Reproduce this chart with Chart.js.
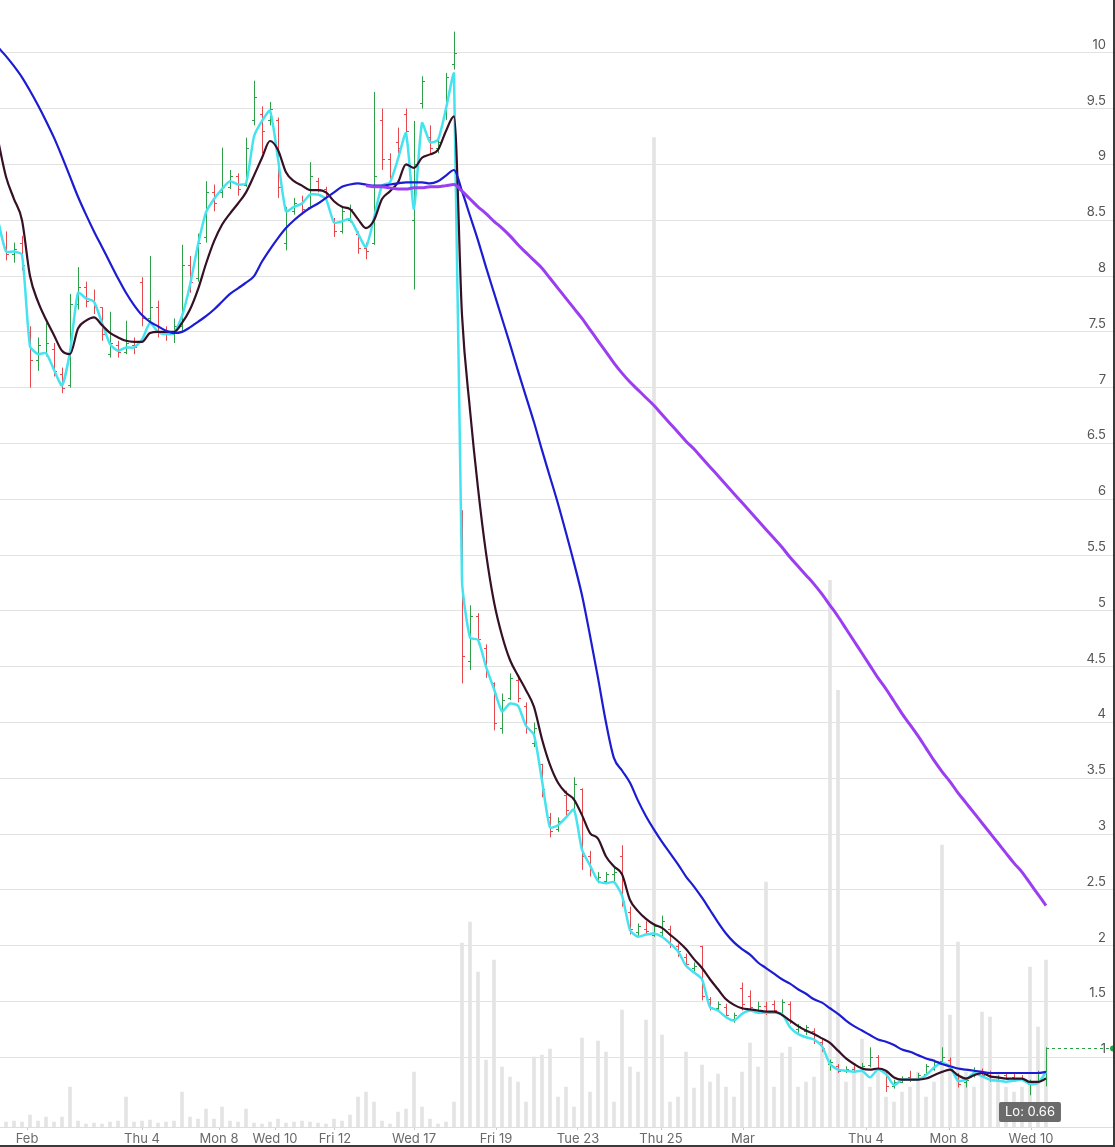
<!DOCTYPE html>
<html>
<head>
<meta charset="utf-8">
<script src="https://cdn.jsdelivr.net/npm/chart.js@4.4.1/dist/chart.umd.min.js"></script>
<style>
  html, body { margin: 0; padding: 0; background: #fff; }
  #wrap { width: 1113px; height: 1145px; border-right: 2px solid #3a3a3a; border-bottom: 2px solid #3a3a3a; }
  canvas { display: block; }
</style>
</head>
<body>
<div id="wrap"><canvas id="myChart" width="1113" height="1145"></canvas></div>
<script>
// bars are indexed 0..130, one bar every few trading hours (Feb 1 -> Mar 10)
var opens = [8.26,8.20,8.30,7.50,7.25,7.32,7.35,7.12,7.02,7.75,
  7.90,7.78,7.72,7.30,7.38,7.32,7.38,7.95,7.62,7.72,
  7.50,7.48,7.55,8.10,7.98,8.35,8.75,8.75,8.80,8.90,
  8.82,9.40,9.45,9.40,9.40,8.30,8.58,8.65,8.62,8.85,
  8.78,8.50,8.40,8.50,8.38,8.25,8.30,9.40,9.05,9.20,
  9.45,8.50,9.55,9.25,9.15,9.45,9.90,5.90,4.55,4.95,
  4.67,4.35,3.95,4.22,4.38,4.15,3.82,3.63,3.15,3.05,
  3.35,3.22,3.40,2.80,2.60,2.58,2.64,2.80,2.30,2.12,
  2.15,2.10,2.12,2.15,2.00,1.90,1.80,2.00,1.52,1.44,
  1.45,1.34,1.62,1.55,1.42,1.46,1.48,1.40,1.48,1.25,
  1.24,1.24,1.14,0.94,0.92,0.88,0.90,0.88,0.93,1.00,
  0.86,0.74,0.78,0.82,0.80,0.85,0.90,0.97,0.98,0.84,
  0.78,0.84,0.88,0.86,0.80,0.84,0.82,0.81,0.76,0.78,
  0.86];
var highs = [8.40,8.30,8.36,7.55,7.45,7.58,7.40,7.18,7.84,8.08,
  7.95,7.88,7.72,7.68,7.42,7.60,7.45,7.99,8.18,7.78,
  7.55,7.62,8.28,8.18,8.38,8.85,8.82,9.15,8.95,8.92,
  9.24,9.75,9.52,9.56,9.42,8.62,8.70,8.72,9.02,8.88,
  8.80,8.52,8.62,8.64,8.40,8.30,9.65,9.50,9.10,9.33,
  9.50,9.39,9.79,9.35,9.25,9.82,10.19,5.90,5.05,4.98,
  4.70,4.36,4.26,4.44,4.40,4.18,4.00,3.63,3.19,3.15,
  3.39,3.51,3.41,2.85,2.66,2.66,2.70,2.90,2.35,2.20,
  2.22,2.20,2.27,2.18,2.02,1.93,1.85,2.00,1.54,1.50,
  1.48,1.40,1.67,1.60,1.50,1.50,1.51,1.52,1.50,1.30,
  1.29,1.26,1.17,0.98,0.94,0.92,0.93,0.95,1.09,1.02,
  0.87,0.80,0.83,0.88,0.86,0.94,0.98,1.09,1.00,0.86,
  0.82,0.91,0.90,0.88,0.84,0.86,0.85,0.84,0.80,0.88,
  1.09];
var lows = [8.14,8.12,8.05,7.00,7.15,7.28,7.10,6.95,7.00,7.70,
  7.72,7.66,7.42,7.27,7.27,7.30,7.30,7.55,7.58,7.45,
  7.42,7.40,7.50,7.85,7.95,8.30,8.58,8.70,8.78,8.72,
  8.80,9.35,9.10,9.35,8.70,8.23,8.55,8.55,8.60,8.75,
  8.68,8.35,8.38,8.48,8.20,8.15,8.28,8.95,8.85,9.10,
  9.20,7.88,9.50,9.10,9.10,9.40,9.85,4.35,4.47,4.70,
  4.40,3.93,3.90,4.20,4.18,3.90,3.78,3.33,2.97,3.02,
  3.15,3.20,2.68,2.62,2.56,2.56,2.58,2.35,2.10,2.08,
  2.10,2.08,2.08,1.98,1.90,1.81,1.77,1.51,1.42,1.42,
  1.35,1.31,1.42,1.42,1.40,1.38,1.39,1.38,1.30,1.22,
  1.20,1.12,1.05,0.88,0.86,0.86,0.86,0.87,0.91,0.88,
  0.69,0.72,0.77,0.78,0.79,0.84,0.88,0.95,0.88,0.73,
  0.73,0.82,0.82,0.78,0.79,0.80,0.79,0.79,0.66,0.77,
  0.74];
var closes = [8.20,8.24,8.10,7.25,7.38,7.40,7.15,7.00,7.75,7.90,
  7.78,7.72,7.48,7.40,7.32,7.40,7.36,7.62,7.72,7.50,
  7.48,7.55,8.10,7.95,8.30,8.75,8.65,8.80,8.90,8.78,
  9.15,9.60,9.30,9.50,8.80,8.58,8.65,8.60,8.90,8.78,
  8.72,8.40,8.58,8.60,8.25,8.22,8.90,9.05,8.90,9.15,
  9.30,9.00,9.75,9.15,9.20,9.78,10.00,4.60,4.95,4.75,
  4.45,4.00,4.20,4.40,4.22,3.95,3.95,3.40,3.03,3.12,
  3.22,3.45,2.80,2.68,2.62,2.64,2.66,2.40,2.15,2.18,
  2.13,2.18,2.22,2.02,1.95,1.84,1.82,1.55,1.45,1.48,
  1.38,1.38,1.48,1.45,1.46,1.41,1.42,1.50,1.33,1.28,
  1.27,1.15,1.08,0.96,0.88,0.90,0.88,0.92,1.00,0.90,
  0.74,0.78,0.80,0.80,0.84,0.92,0.96,1.00,0.90,0.76,
  0.80,0.88,0.84,0.80,0.82,0.81,0.80,0.80,0.78,0.86,
  1.08];
// volume, thousands of shares
var volumes = [50,60,50,120,60,100,50,100,400,60,
  30,40,30,50,60,300,50,60,70,40,
  50,60,350,100,80,180,80,200,60,50,
  180,40,30,50,80,40,50,60,50,40,
  30,80,60,120,300,350,250,60,30,150,
  180,550,200,80,30,50,250,1840,2050,1550,
  670,1670,600,500,450,250,700,720,780,300,
  400,200,890,350,860,750,250,1170,600,550,
  1070,9900,920,250,300,750,390,620,450,530,
  400,300,550,840,600,2450,400,740,800,400,
  450,500,800,5470,4370,450,600,880,400,550,
  300,250,350,400,550,300,450,2820,1120,1850,
  550,400,1150,1100,550,400,350,400,1600,1000,
  1670];

// moving averages, first value sits one bar before bar 0
var maStart = -1;
var maFast = [8.50,8.22,8.22,8.19,7.37,7.30,7.31,7.16,7.02,7.32,7.85,
  7.80,7.77,7.58,7.39,7.33,7.36,7.36,7.43,7.58,7.50,
  7.48,7.49,7.64,7.92,8.28,8.57,8.69,8.78,8.85,8.82,
  8.83,9.25,9.39,9.48,9.05,8.58,8.62,8.65,8.73,8.73,
  8.69,8.48,8.49,8.51,8.38,8.26,8.52,8.81,8.84,9.05,
  9.28,8.60,9.37,9.20,9.22,9.50,9.81,5.27,4.76,4.74,
  4.50,4.30,4.10,4.17,4.15,3.97,3.89,3.48,3.06,3.08,
  3.15,3.22,2.86,2.72,2.58,2.56,2.57,2.45,2.14,2.08,
  2.10,2.11,2.08,2.02,1.95,1.82,1.76,1.70,1.45,1.42,
  1.36,1.33,1.39,1.42,1.40,1.40,1.40,1.39,1.27,1.21,
  1.18,1.16,1.10,0.94,0.89,0.88,0.87,0.88,0.82,0.89,
  0.85,0.75,0.80,0.80,0.80,0.84,0.91,0.95,0.92,0.79,
  0.80,0.86,0.83,0.80,0.79,0.78,0.79,0.80,0.76,0.77,
  0.87];
var maMid = [9.22,8.89,8.69,8.50,8.00,7.77,7.61,7.47,7.33,7.30,7.53,
  7.60,7.63,7.56,7.49,7.45,7.42,7.41,7.41,7.49,7.50,
  7.50,7.50,7.58,7.70,7.88,8.11,8.31,8.46,8.56,8.65,
  8.75,8.90,9.06,9.21,9.13,8.93,8.85,8.81,8.77,8.77,
  8.75,8.67,8.62,8.60,8.51,8.43,8.50,8.69,8.76,8.84,
  9.00,8.97,9.06,9.09,9.13,9.30,9.43,7.65,6.80,6.10,
  5.52,5.08,4.78,4.56,4.42,4.29,4.14,3.85,3.62,3.46,
  3.37,3.31,3.17,3.01,2.96,2.80,2.71,2.64,2.41,2.31,
  2.24,2.19,2.16,2.10,2.04,1.97,1.88,1.80,1.70,1.61,
  1.52,1.47,1.44,1.43,1.42,1.41,1.41,1.38,1.33,1.28,
  1.24,1.21,1.17,1.13,1.06,0.99,0.94,0.90,0.89,0.90,
  0.88,0.82,0.80,0.80,0.80,0.81,0.84,0.87,0.89,0.84,
  0.81,0.84,0.86,0.83,0.82,0.81,0.81,0.81,0.78,0.78,
  0.81];
var maSlow = [10.05,9.97,9.88,9.78,9.66,9.53,9.39,9.24,9.07,8.89,8.71,
  8.55,8.40,8.26,8.12,7.98,7.85,7.74,7.65,7.59,7.55,
  7.51,7.49,7.50,7.54,7.59,7.64,7.70,7.77,7.84,7.89,
  7.94,8.00,8.13,8.24,8.34,8.43,8.50,8.56,8.61,8.65,
  8.70,8.75,8.80,8.82,8.83,8.82,8.81,8.81,8.82,8.83,
  8.84,8.84,8.84,8.83,8.85,8.90,8.95,8.76,8.54,8.32,
  8.08,7.85,7.62,7.39,7.15,6.92,6.69,6.44,6.20,5.96,
  5.70,5.43,5.14,4.78,4.40,4.00,3.68,3.57,3.46,3.30,
  3.16,3.04,2.93,2.83,2.73,2.62,2.53,2.43,2.32,2.21,
  2.11,2.03,1.97,1.92,1.85,1.80,1.75,1.70,1.66,1.61,
  1.57,1.52,1.49,1.44,1.39,1.33,1.28,1.24,1.20,1.16,
  1.14,1.11,1.07,1.05,1.02,0.99,0.97,0.94,0.92,0.90,
  0.89,0.88,0.87,0.86,0.86,0.86,0.86,0.86,0.86,0.86,
  0.87];
var maLongStart = 45;
var maLong = [8.81,8.80,8.80,8.79,8.78,8.78,8.79,8.79,8.80,8.80,
  8.81,8.82,8.76,8.69,8.62,8.56,8.49,8.43,8.36,8.28,
  8.21,8.14,8.07,7.98,7.89,7.80,7.71,7.62,7.52,7.42,
  7.32,7.22,7.13,7.05,6.98,6.91,6.84,6.76,6.68,6.60,
  6.52,6.45,6.37,6.29,6.21,6.13,6.05,5.97,5.89,5.81,
  5.73,5.65,5.57,5.48,5.40,5.32,5.24,5.15,5.05,4.95,
  4.84,4.73,4.62,4.51,4.40,4.30,4.19,4.08,3.98,3.88,
  3.77,3.66,3.56,3.47,3.37,3.28,3.19,3.10,3.01,2.92,
  2.83,2.74,2.66,2.56,2.46,2.36];

// x axis labels (bar position of each day start)
var tickIdx = [2.625, 17, 26.625, 33.625, 41.125, 51, 61.25, 71.5, 81.875, 92.125, 107.5, 117.875, 128.125];
var tickLabels = ['Feb', 'Thu 4', 'Mon 8', 'Wed 10', 'Fri 12', 'Wed 17', 'Fri 19', 'Tue 23', 'Thu 25', 'Mar', 'Thu 4', 'Mon 8', 'Wed 10'];

var upColor = '#2f9e48';
var downColor = '#e5484d';

function toPoints(arr, start) {
  return arr.map(function (v, k) { return { x: start + k, y: v }; });
}

var ohlcPlugin = {
  id: 'ohlc',
  afterDatasetDraw: function (chart, args) {
    if (args.index !== 0) return;
    var ctx = chart.ctx, xs = chart.scales.x, ys = chart.scales.y;
    ctx.save();
    ctx.lineWidth = 1;
    for (var i = 0; i < closes.length; i++) {
      var px = Math.round(xs.getPixelForValue(i)) + 0.5;
      var po = Math.round(ys.getPixelForValue(opens[i])) + 0.5;
      var pc = Math.round(ys.getPixelForValue(closes[i])) + 0.5;
      ctx.strokeStyle = closes[i] >= opens[i] ? upColor : downColor;
      ctx.beginPath();
      ctx.moveTo(px, ys.getPixelForValue(highs[i]));
      ctx.lineTo(px, ys.getPixelForValue(lows[i]));
      ctx.moveTo(px - 2.5, po); ctx.lineTo(px, po);
      ctx.moveTo(px, pc); ctx.lineTo(px + 2.5, pc);
      ctx.stroke();
    }
    ctx.restore();
  }
};

var markersPlugin = {
  id: 'markers',
  afterDraw: function (chart) {
    var ctx = chart.ctx, xs = chart.scales.x, ys = chart.scales.y, area = chart.chartArea;
    var last = closes.length - 1;
    var lx = xs.getPixelForValue(last);
    var ly = Math.round(ys.getPixelForValue(closes[last])) + 0.5;
    ctx.save();
    // last price line
    ctx.strokeStyle = upColor;
    ctx.lineWidth = 1;
    ctx.setLineDash([3, 3]);
    ctx.beginPath();
    ctx.moveTo(lx, ly);
    ctx.lineTo(area.right, ly);
    ctx.stroke();
    ctx.setLineDash([]);
    ctx.fillStyle = upColor;
    ctx.beginPath();
    ctx.arc(area.right, ly, 3, 0, Math.PI * 2);
    ctx.fill();
    // low label
    var lo = Math.min.apply(null, lows);
    var loIdx = lows.indexOf(lo);
    var text = 'Lo: ' + lo.toFixed(2);
    ctx.font = '13px Inter, "Noto Sans", sans-serif';
    var w = ctx.measureText(text).width + 12;
    var cx = xs.getPixelForValue(loIdx);
    var bx = Math.round(cx - w / 2), by = area.bottom - 25;
    ctx.fillStyle = '#6b6b6b';
    ctx.beginPath();
    ctx.roundRect(bx, by, w, 20, 2);
    ctx.fill();
    ctx.fillStyle = '#ffffff';
    ctx.textAlign = 'center';
    ctx.textBaseline = 'middle';
    ctx.fillText(text, bx + w / 2, by + 10.5);
    ctx.restore();
  }
};

Chart.defaults.font.family = 'Inter, "Noto Sans", sans-serif';

var myChart = document.getElementById('myChart');
var config = {
  type: 'line',
  data: {
    datasets: [
      {
        type: 'bar',
        label: 'Volume',
        data: toPoints(volumes, 0),
        yAxisID: 'vol',
        backgroundColor: '#e4e4e4',
        barThickness: 3,
        order: 10
      },
      {
        label: 'MA fast',
        data: toPoints(maFast, maStart),
        borderColor: '#45e3ef',
        borderWidth: 2.5,
        tension: 0.2,
        order: 4
      },
      {
        label: 'MA mid',
        data: toPoints(maMid, maStart),
        borderColor: '#361126',
        borderWidth: 2.2,
        cubicInterpolationMode: 'monotone',
        order: 3
      },
      {
        label: 'MA slow',
        data: toPoints(maSlow, maStart),
        borderColor: '#1c1cd2',
        borderWidth: 2.2,
        cubicInterpolationMode: 'monotone',
        order: 2
      },
      {
        label: 'MA long',
        data: toPoints(maLong, maLongStart),
        borderColor: '#9b3ef2',
        borderWidth: 3,
        cubicInterpolationMode: 'monotone',
        order: 1
      }
    ]
  },
  options: {
    responsive: false,
    animation: false,
    devicePixelRatio: 1,
    layout: { padding: 0 },
    elements: { point: { radius: 0 } },
    plugins: {
      legend: { display: false },
      tooltip: { enabled: false }
    },
    scales: {
      x: {
        type: 'linear',
        min: -0.75,
        max: 138.375,
        offset: false,
        afterBuildTicks: function (s) {
          s.ticks = tickIdx.map(function (v) { return { value: v }; });
        },
        afterFit: function (s) { s.height = 18; },
        ticks: {
          autoSkip: false,
          maxRotation: 0,
          padding: 1,
          color: '#6a6a6a',
          font: { size: 13 },
          callback: function (v) {
            var k = tickIdx.indexOf(v);
            return k >= 0 ? tickLabels[k] : '';
          }
        },
        grid: { drawOnChartArea: false, drawTicks: true, tickLength: 3, color: '#cccccc', offset: false },
        border: { display: true, color: '#dddddd' }
      },
      y: {
        position: 'right',
        min: 0.376,
        max: 10.466,
        afterFit: function (s) { s.width = 0; },
        afterBuildTicks: function (s) {
          s.ticks = s.ticks.filter(function (t) { return t.value >= 1 && t.value <= 10; });
        },
        ticks: {
          stepSize: 0.5,
          includeBounds: false,
          mirror: true,
          padding: -7,
          labelOffset: -8,
          color: '#555555',
          font: { size: 13 },
          callback: function (v) { return String(Math.round(v * 10) / 10); }
        },
        grid: { color: '#e2e2e2', drawTicks: false },
        border: { display: false }
      },
      vol: {
        display: false,
        min: 0,
        max: 11270
      }
    }
  },
  plugins: [ohlcPlugin, markersPlugin]
};

var chart = new Chart(myChart, config);
</script>
</body>
</html>
